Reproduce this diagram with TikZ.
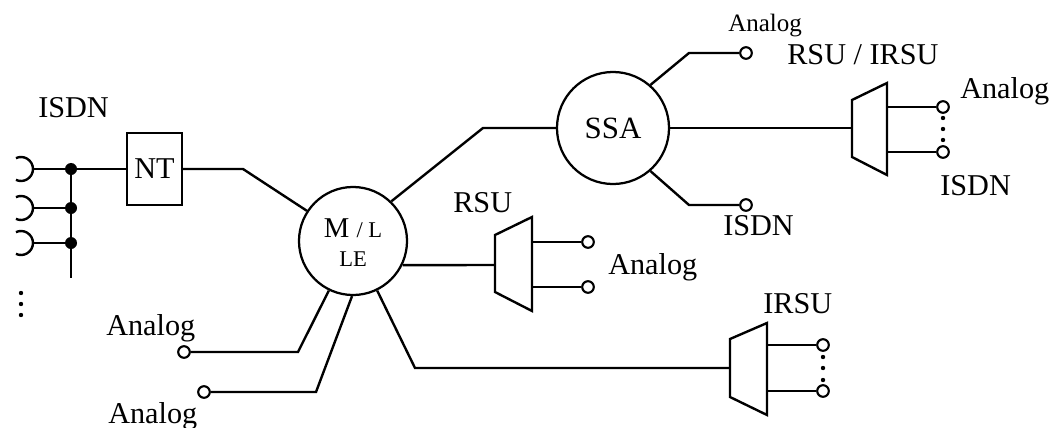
\documentclass[tikz,border=0pt]{standalone}
\usepackage{fontspec}
\setmainfont{Liberation Serif}
\usepackage{tikz}
\tikzset{
  wire/.style={line width=1.7pt,line join=miter},
  thinwire/.style={line width=1.1pt},
  exch/.style={circle,draw,line width=1.6pt,inner sep=0pt,
               font=\fontsize{22}{24}\selectfont},
  ntbox/.style={rectangle,draw,line width=1.6pt,inner sep=0pt,
                minimum width=1.38cm,minimum height=1.81cm,
                font=\fontsize{21.5}{24}\selectfont},
  mux/.style={line width=1.7pt,line join=miter},
  term/.style={circle,draw,line width=1.5pt,fill=white,inner sep=0pt,
               minimum size=0.29cm},
  junc/.style={circle,fill,inner sep=0pt,minimum size=0.3cm},
  lbl/.style={font=\fontsize{21.5}{24}\selectfont,inner sep=0pt,anchor=base west},
  lblsmall/.style={font=\fontsize{17.8}{20}\selectfont,inner sep=0pt,anchor=base west}
}

\begin{document}
\begin{tikzpicture}[x=0.025cm,y=-0.025cm]
  \useasboundingbox (0,0) rectangle (1051,427);
  % exchanges
  \node[exch,minimum size=2.7cm] (ml) at (353,241) {};
  \node[lbl,anchor=base,font=\fontsize{20.4}{22}\selectfont] (mltop) at (353,237)
    {M {\fontsize{16}{18}\selectfont / L}};
  \node[lbl,anchor=base,font=\fontsize{16}{18}\selectfont] (mlbot) at (353,266) {LE};
  \node[exch,minimum size=2.8cm] (ssa) at (613,128) {SSA};
  \node[ntbox] (nt) at (154.5,169) {NT};
  % ISDN subscriber side
  \node[junc] (j1) at (71,169) {};
  \node[junc] (j2) at (71,208) {};
  \node[junc] (j3) at (71,243) {};
  \coordinate (busend) at (71,278);
  \coordinate (p1) at (33,169);
  \coordinate (p2) at (33,208);
  \coordinate (p3) at (33,243);
  % remote units
  \draw[mux] (495,235) -- (532,217) -- (532,311) -- (495,292) -- cycle;
  \coordinate (rsuin) at (495,265);
  \coordinate (rsuoa) at (532,242);
  \coordinate (rsuob) at (532,287);
  \draw[mux] (852,100) -- (887,83) -- (887,175) -- (852,157) -- cycle;
  \coordinate (riin) at (852,128);
  \coordinate (rioa) at (887,107);
  \coordinate (riob) at (887,152);
  \draw[mux] (730,339) -- (767,323) -- (767,415) -- (730,397) -- cycle;
  \coordinate (irin) at (730,368);
  \coordinate (iroa) at (767,345);
  \coordinate (irob) at (767,391);
  % terminals
  \node[term] (rsua) at (588,242) {};
  \node[term] (rsub) at (588,287) {};
  \node[term] (ria) at (943,107) {};
  \node[term] (rib) at (943,152) {};
  \node[term] (irsua) at (823,345) {};
  \node[term] (irsub) at (823,391) {};
  \node[term] (ssaa) at (746,53) {};
  \node[term] (ssai) at (746,205) {};
  \node[term] (ana) at (184,352) {};
  \node[term] (anb) at (204,392) {};
  % wiring
  \draw[wire] (p1) arc[start angle=0,end angle=115,radius=12]
              (p1) arc[start angle=0,end angle=-115,radius=12];
  \draw[wire] (p2) arc[start angle=0,end angle=115,radius=12]
              (p2) arc[start angle=0,end angle=-115,radius=12];
  \draw[wire] (p3) arc[start angle=0,end angle=115,radius=12]
              (p3) arc[start angle=0,end angle=-115,radius=12];
  \draw[wire] (p1) -- (j1) -- (nt);
  \draw[wire] (p2) -- (j2);
  \draw[wire] (p3) -- (j3);
  \draw[wire] (j1) -- (busend);
  \draw[wire] (nt.east) -- (243,169) -- (ml);
  \draw[wire] (ml.46) -- (483,128) -- (ssa);
  \draw[wire] (ml.-26) -- (rsuin);
  \draw[wire] (ml.-116) -- (298,352) -- (ana);
  \draw[wire] (ml.-91) -- (316,392) -- (anb);
  \draw[wire] (ml.-64) -- (415,368) -- (irin);
  \draw[thinwire] (ssa) -- (riin);
  \draw[wire] (ssa.49) -- (689,53) -- (ssaa);
  \draw[wire] (ssa.-49) -- (689,205) -- (ssai);
  \draw[wire] (rsuoa) -- (rsua);
  \draw[wire] (rsuob) -- (rsub);
  \draw[wire] (rioa) -- (ria);
  \draw[wire] (riob) -- (rib);
  \draw[wire] (iroa) -- (irsua);
  \draw[wire] (irob) -- (irsub);
  % ellipsis dots
  \fill (21,293) circle[radius=2.2]; \fill (21,304) circle[radius=2.2]; \fill (21,315) circle[radius=2.2];
  \fill (943,118) circle[radius=2.2]; \fill (943,129) circle[radius=2.2]; \fill (943,140) circle[radius=2.2];
  \fill (823,357) circle[radius=2.2]; \fill (823,368) circle[radius=2.2]; \fill (823,380) circle[radius=2.2];
  % labels
  \node[lbl] (isdnl) at (38,117) {ISDN};
  \node[lbl] (anal) at (106,335) {Analog};
  \node[lbl] (anbl) at (108,423) {Analog};
  \node[lbl] (rsul) at (453,212) {RSU};
  \node[lbl] (rsuan) at (608,274) {Analog};
  \node[lblsmall] (ssaal) at (728,32) {Analog};
  \node[lbl] (ssail) at (723,235) {ISDN};
  \node[lbl] (ril) at (787,65) {RSU / IRSU};
  \node[lbl] (rial) at (960,99) {Analog};
  \node[lbl] (riil) at (940,195) {ISDN};
  \node[lbl] (irl) at (763,313) {IRSU};
\end{tikzpicture}
\end{document}
